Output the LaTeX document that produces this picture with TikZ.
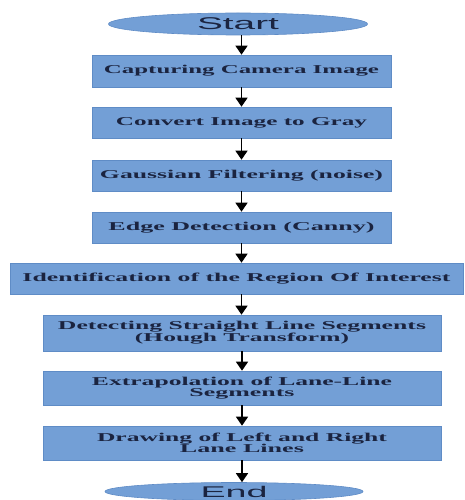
\documentclass[tikz,border=0pt]{standalone}
\usepackage{fontspec}
\setmainfont{Liberation Serif}
\newfontfamily\startfont{Liberation Sans}
\usetikzlibrary{shapes.geometric,arrows.meta}
\definecolor{boxfill}{HTML}{739FD6}
\definecolor{boxline}{HTML}{5F8CC6}
\definecolor{txt}{HTML}{1B2440}
\newcommand\sx[2]{\resizebox{#1pt}{\height}{#2}}
\begin{document}
\begin{tikzpicture}[x=1pt,y=-1pt,
  stepbox/.style={rectangle,fill=boxfill,draw=boxline,line width=0.6pt,inner sep=0pt,
    text=txt,font=\fontsize{12}{11}\selectfont\bfseries,align=center},
  termnode/.style={ellipse,fill=boxfill,draw=boxline,line width=0.6pt,inner sep=0pt,
    text=txt,font=\fontsize{17}{17}\selectfont\startfont},
  flow/.style={line width=1.4pt,black,-{Triangle[width=12pt,length=9pt]}}]
\useasboundingbox (0,0) rectangle (465,500);
\clip (0,0) rectangle (465,500);
\node[termnode,minimum width=259pt,minimum height=22pt] (start) at (238,24) {\sx{82}{Start}};
\node[stepbox,minimum width=299pt,minimum height=32pt] (b1) at (241.5,71) {\sx{275}{Capturing Camera Image}};
\node[stepbox,minimum width=299pt,minimum height=31pt] (b2) at (241.5,122.5) {\sx{251}{Convert Image to Gray}};
\node[stepbox,minimum width=299pt,minimum height=31pt] (b3) at (241.5,175.5) {\sx{283}{Gaussian Filtering (noise)}};
\node[stepbox,minimum width=299pt,minimum height=31pt] (b4) at (241.5,227.5) {\sx{266}{Edge Detection (Canny)}};
\node[stepbox,minimum width=453pt,minimum height=31pt] (b5) at (236.5,278.5) {\sx{428}{Identification of the Region Of Interest}};
\node[stepbox,minimum width=398pt,minimum height=36pt] (b6) at (242,333) {\sx{368}{Detecting Straight Line Segments}\\\sx{214}{(Hough Transform)}};
\node[stepbox,minimum width=398pt,minimum height=34pt] (b7) at (242,388) {\sx{300}{Extrapolation of Lane-Line}\\\sx{105}{Segments}};
\node[stepbox,minimum width=398pt,minimum height=34pt] (b8) at (242,443) {\sx{290}{Drawing of Left and Right}\\\sx{124}{Lane Lines}};
\node[termnode,font=\fontsize{15.5}{15.5}\selectfont\startfont,minimum width=258pt,minimum height=18pt] (end) at (234,491.5) {\sx{67}{End}};
\draw[flow] (start.south -| b1.north) -- (b1.north);
\draw[flow] (b1.south) -- (b2.north);
\draw[flow] (b2.south) -- (b3.north);
\draw[flow] (b3.south) -- (b4.north);
\draw[flow] (b4.south) -- (b4.south |- b5.north);
\draw[flow] (b5.south -| b4.south) -- (b4.south |- b6.north);
\draw[flow] (b6.south) -- (b7.north);
\draw[flow] (b7.south) -- (b8.north);
\draw[flow] (b8.south) -- (b8.south |- end.north);
\end{tikzpicture}
\end{document}
